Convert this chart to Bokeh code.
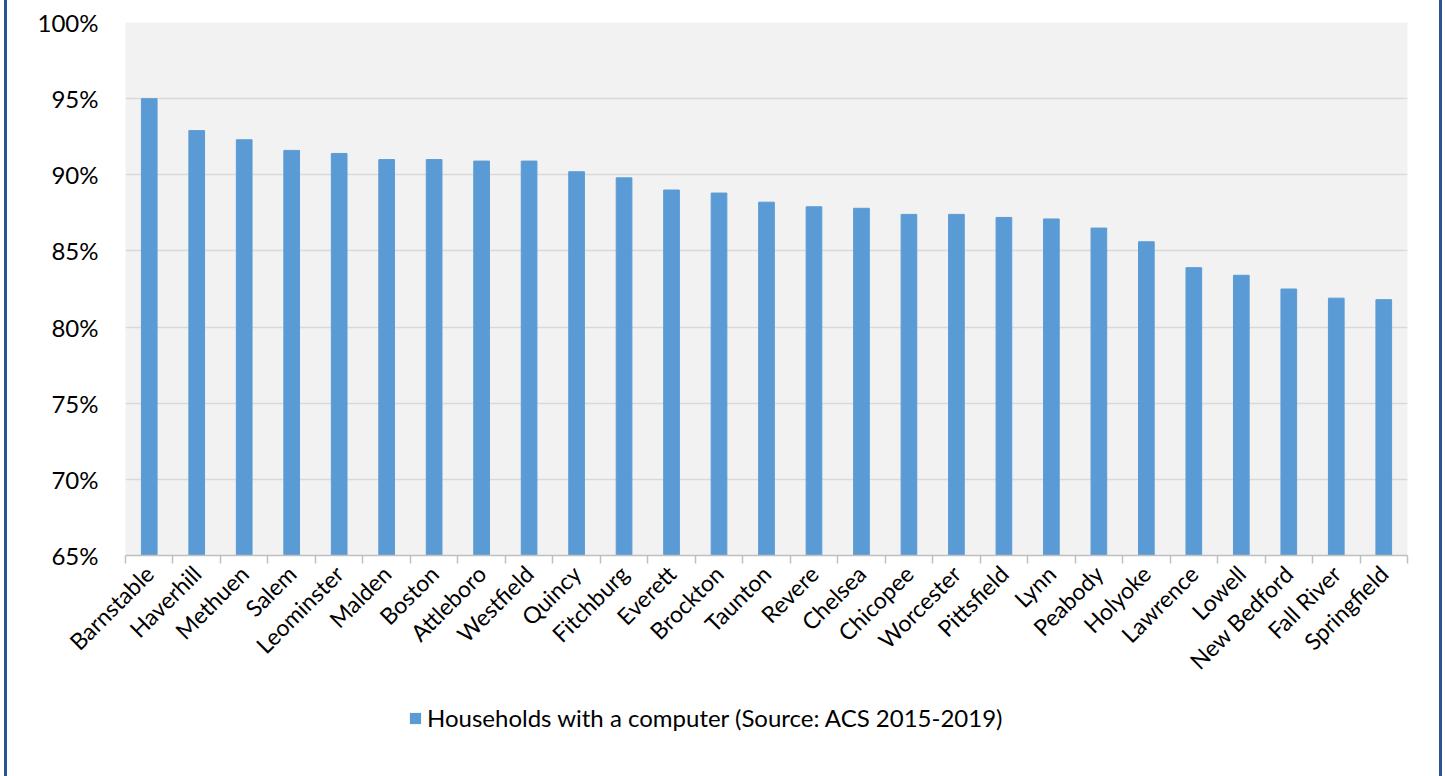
import math
from bokeh.plotting import figure
from bokeh.models import (ColumnDataSource, FixedTicker, NumeralTickFormatter,
                          Legend, LegendItem, Range1d)
from bokeh.layouts import column
from bokeh.embed import file_html
from bokeh.resources import INLINE

# Share of households with a computer, by city
cities = ["Barnstable", "Haverhill", "Methuen", "Salem", "Leominster", "Malden",
          "Boston", "Attleboro", "Westfield", "Quincy", "Fitchburg", "Everett",
          "Brockton", "Taunton", "Revere", "Chelsea", "Chicopee", "Worcester",
          "Pittsfield", "Lynn", "Peabody", "Holyoke", "Lawrence", "Lowell",
          "New Bedford", "Fall River", "Springfield"]
share = [0.950, 0.929, 0.923, 0.916, 0.914, 0.910,
         0.910, 0.909, 0.909, 0.902, 0.898, 0.890,
         0.888, 0.882, 0.879, 0.878, 0.874, 0.874,
         0.872, 0.871, 0.865, 0.856, 0.839, 0.834,
         0.825, 0.819, 0.818]
y_ticks = [0.65, 0.70, 0.75, 0.80, 0.85, 0.90, 0.95, 1.00]
series_label = "Households with a computer (Source: ACS 2015-2019)"

FONT = "Lato"
BAR = "#5b9bd5"
W = 1432

pos = list(range(len(cities)))
src = ColumnDataSource(dict(x=pos, top=share, city=cities))

p = figure(width=W, height=700, output_backend="svg", toolbar_location=None,
           x_range=Range1d(-0.5, len(cities) - 0.5),
           y_range=Range1d(y_ticks[0], y_ticks[-1]),
           min_border_left=118, min_border_right=32,
           min_border_top=22, min_border_bottom=145)

p.background_fill_color = "#f2f2f2"
p.border_fill_color = "white"
p.outline_line_color = None

bars = p.vbar(x="x", top="top", bottom=y_ticks[0], width=0.33, source=src,
              fill_color=BAR, line_color=BAR)

# y axis: percentages, no axis line or ticks
p.yaxis.ticker = FixedTicker(ticks=y_ticks)
p.yaxis.formatter = NumeralTickFormatter(format="0%")
p.yaxis.axis_line_color = None
p.yaxis.major_tick_line_color = None
p.yaxis.minor_tick_line_color = None
p.yaxis.major_label_text_font = FONT
p.yaxis.major_label_text_font_size = "24px"
p.yaxis.major_label_text_color = "black"
p.yaxis.major_label_standoff = 21

p.ygrid.ticker = FixedTicker(ticks=y_ticks)
p.ygrid.grid_line_color = "#d9d9d9"
p.ygrid.grid_line_width = 1.5
p.xgrid.grid_line_color = None

# x axis: labels at bar centres, tick marks between categories
bounds = [i - 0.5 for i in range(len(cities) + 1)]
p.xaxis.ticker = FixedTicker(ticks=pos, minor_ticks=bounds)
p.xaxis.major_label_overrides = {i: c for i, c in enumerate(cities)}
p.xaxis.major_label_orientation = math.pi / 4
p.xaxis.major_label_text_font = FONT
p.xaxis.major_label_text_font_size = "23px"
p.xaxis.major_label_text_color = "black"
p.xaxis.major_label_standoff = 6
p.xaxis.axis_line_color = "#bfbfbf"
p.xaxis.axis_line_width = 1.5
p.xaxis.major_tick_line_color = None
p.xaxis.minor_tick_line_color = "#bfbfbf"
p.xaxis.minor_tick_line_width = 1.5
p.xaxis.minor_tick_in = 0
p.xaxis.minor_tick_out = 8

# legend strip underneath the chart; its key reuses the bar series, whose
# bars lie outside this strip's ranges so only the legend swatch shows
leg = figure(width=W, height=76, output_backend="svg", toolbar_location=None,
             x_range=Range1d(100, 101), y_range=Range1d(10, 11),
             min_border_left=0, min_border_right=0,
             min_border_top=0, min_border_bottom=0)
leg.axis.visible = False
leg.grid.visible = False
leg.outline_line_color = None
leg.background_fill_color = "white"
key = leg.vbar(x="x", top="top", bottom=y_ticks[0], width=0.33, source=src,
               fill_color=BAR, line_color=None)

legend = Legend(items=[LegendItem(label=series_label, renderers=[key])],
                location=(283, 44), orientation="horizontal",
                label_text_font=FONT, label_text_font_size="24px",
                label_text_color="black", glyph_width=14, glyph_height=14,
                label_standoff=5, background_fill_alpha=0,
                border_line_color=None, padding=2, margin=0)
leg.add_layout(legend, "center")

layout = column(p, leg, spacing=0,
                styles={"border-left": "3px solid #2a5592",
                        "border-right": "3px solid #2a5592",
                        "margin-left": "4px"})

open("out.html", "w").write(file_html(layout, INLINE))
